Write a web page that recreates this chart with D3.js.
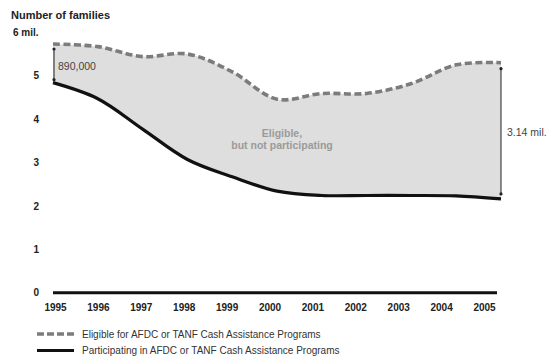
<!DOCTYPE html>
<html>
<head>
<meta charset="utf-8">
<script src="https://cdn.jsdelivr.net/npm/d3@7/dist/d3.min.js"></script>
<style>
  html, body { margin: 0; padding: 0; background: #fff; }
  svg { display: block; font-family: "Liberation Sans", Arial, Helvetica, sans-serif; }
</style>
</head>
<body>
<svg id="chart" width="547" height="363"></svg>
<script>
// Families eligible for vs. participating in AFDC/TANF cash assistance (millions)
const years = [1995, 1996, 1997, 1998, 1999, 2000, 2001, 2002, 2003, 2004, 2005];
const eligible = [5.73, 5.67, 5.44, 5.50, 5.09, 4.46, 4.59, 4.59, 4.82, 5.25, 5.30];
const participating = [4.84, 4.47, 3.77, 3.07, 2.67, 2.34, 2.24, 2.24, 2.24, 2.23, 2.16];
const yTicks = [0, 1, 2, 3, 4, 5];
const xTickLabels = ["1995", "1996", "1997", "1998", "1999", "2000", "2001", "2002", "2003", "2004", "2005"];
const legendItems = [
  { label: "Eligible for AFDC or TANF Cash Assistance Programs", key: "eligible" },
  { label: "Participating in AFDC or TANF Cash Assistance Programs", key: "participating" }
];

const svg = d3.select("#chart");

const x = d3.scaleLinear().domain([1995, 2005]).range([53, 501]);
const xLabels = d3.scalePoint().domain(xTickLabels).range([55, 484]);
const y = d3.scaleLinear().domain([0, 6]).range([292.7, 32.3]);

const rows = years.map((yr, i) => ({ year: yr, e: eligible[i], p: participating[i] }));
const curve = d3.curveCatmullRom.alpha(0.5);

// gap between the two series
svg.append("path")
  .datum(rows)
  .attr("fill", "#dedede")
  .attr("d", d3.area().curve(curve).x(d => x(d.year)).y0(d => y(d.p)).y1(d => y(d.e)));

// eligible (dashed)
svg.append("path")
  .datum(rows)
  .attr("fill", "none")
  .attr("stroke", "#7c7c7c")
  .attr("stroke-width", 3.6)
  .attr("stroke-dasharray", "7,3.5")
  .attr("d", d3.line().curve(curve).x(d => x(d.year)).y(d => y(d.e)));

// participating (solid)
svg.append("path")
  .datum(rows)
  .attr("fill", "none")
  .attr("stroke", "#111")
  .attr("stroke-width", 3.2)
  .attr("stroke-linejoin", "round")
  .attr("d", d3.line().curve(curve).x(d => x(d.year)).y(d => y(d.p)));

// baseline
svg.append("line")
  .attr("x1", 53).attr("x2", 497)
  .attr("y1", y(0)).attr("y2", y(0))
  .attr("stroke", "#111").attr("stroke-width", 3);

// y axis labels
const yAxis = d3.axisLeft(y).tickValues(yTicks).tickFormat(d3.format("d")).tickSize(0).tickPadding(0);
const gy = svg.append("g").attr("transform", "translate(39,0)").call(yAxis);
gy.select(".domain").remove();
gy.selectAll("text")
  .attr("font-size", 10).attr("font-weight", "bold").attr("fill", "#222")
  .attr("font-family", "Liberation Sans, Arial, sans-serif");

svg.append("text").attr("x", 13).attr("y", 36)
  .attr("font-size", 10).attr("font-weight", "bold").attr("fill", "#222")
  .text("6 mil.");

svg.append("text").attr("x", 11).attr("y", 19)
  .attr("font-size", 11).attr("font-weight", "bold").attr("fill", "#222")
  .text("Number of families");

// x axis labels
const xAxis = d3.axisBottom(xLabels).tickSize(0).tickPadding(0);
const gx = svg.append("g").attr("transform", "translate(0,304)").call(xAxis);
gx.select(".domain").remove();
gx.selectAll("text")
  .attr("font-size", 10).attr("font-weight", "bold").attr("fill", "#222")
  .attr("font-family", "Liberation Sans, Arial, sans-serif");

// difference markers
function bracket(xPos, top, bottom) {
  svg.append("line")
    .attr("x1", xPos).attr("x2", xPos)
    .attr("y1", top).attr("y2", bottom)
    .attr("stroke", "#222").attr("stroke-width", 1);
  [top, bottom].forEach(v => svg.append("circle")
    .attr("cx", xPos).attr("cy", v).attr("r", 1.6).attr("fill", "#222"));
}
bracket(x(1995) + 1, y(eligible[0]) + 5, y(participating[0]) - 3);
bracket(x(2005), y(eligible[10]) + 6, y(participating[10]) - 5);

svg.append("text").attr("x", 58).attr("y", 70)
  .attr("font-size", 10.5).attr("fill", "#444").text("890,000");
svg.append("text").attr("x", 507).attr("y", 136)
  .attr("font-size", 10.5).attr("fill", "#444").text("3.14 mil.");

svg.append("text").attr("x", 282).attr("y", 137)
  .attr("text-anchor", "middle").attr("font-size", 10.5).attr("font-weight", "bold").attr("fill", "#9a9a9a")
  .text("Eligible,");
svg.append("text").attr("x", 282).attr("y", 149)
  .attr("text-anchor", "middle").attr("font-size", 10.5).attr("font-weight", "bold").attr("fill", "#9a9a9a")
  .text("but not participating");

// legend
const lg = svg.append("g");
legendItems.forEach((item, i) => {
  const ly = 334 + i * 16.5;
  const sw = lg.append("line")
    .attr("x1", 37).attr("x2", 74).attr("y1", ly).attr("y2", ly);
  if (item.key === "eligible") {
    sw.attr("stroke", "#7c7c7c").attr("stroke-width", 3.6).attr("stroke-dasharray", "7,3");
  } else {
    sw.attr("stroke", "#111").attr("stroke-width", 3.2);
  }
  lg.append("text").attr("x", 82).attr("y", ly + 3.5)
    .attr("font-size", 10).attr("fill", "#333").text(item.label);
});
</script>
</body>
</html>
